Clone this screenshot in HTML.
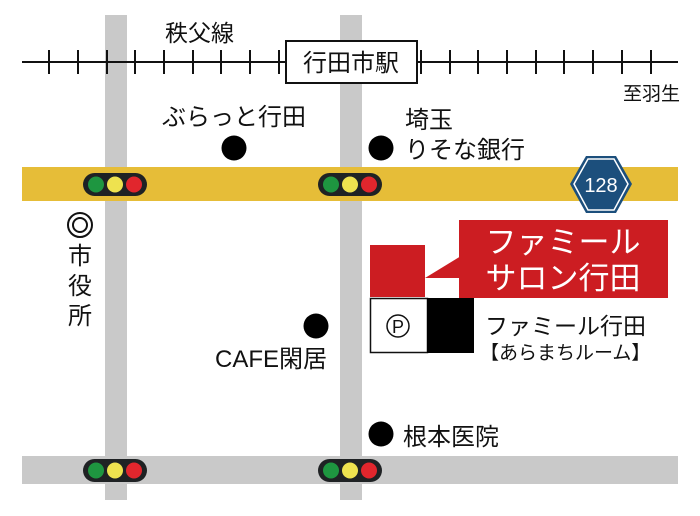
<!DOCTYPE html>
<html><head><meta charset="utf-8"><style>
html,body{margin:0;padding:0;background:#fff;width:700px;height:516px;overflow:hidden}
svg{display:block}
text{font-family:"Liberation Sans","Noto Sans CJK JP",sans-serif;fill:#111}
</style></head><body>
<svg width="700" height="516" viewBox="0 0 700 516" xmlns="http://www.w3.org/2000/svg">
<rect x="105" y="15" width="22" height="485" fill="#c9c9c9"/>
<rect x="340" y="15" width="22" height="485" fill="#c9c9c9"/>
<rect x="22" y="456" width="656" height="28" fill="#c9c9c9"/>
<rect x="22" y="167" width="656" height="34" fill="#e6bd38"/>
<line x1="22" y1="62" x2="678" y2="62" stroke="#111" stroke-width="2"/>
<g stroke="#111" stroke-width="2">
<line x1="49" y1="50" x2="49" y2="74"/><line x1="78" y1="50" x2="78" y2="74"/><line x1="107" y1="50" x2="107" y2="74"/><line x1="135" y1="50" x2="135" y2="74"/><line x1="164" y1="50" x2="164" y2="74"/><line x1="193" y1="50" x2="193" y2="74"/><line x1="221" y1="50" x2="221" y2="74"/><line x1="250" y1="50" x2="250" y2="74"/><line x1="279" y1="50" x2="279" y2="74"/>
<line x1="421" y1="50" x2="421" y2="74"/><line x1="450" y1="50" x2="450" y2="74"/><line x1="478" y1="50" x2="478" y2="74"/><line x1="507" y1="50" x2="507" y2="74"/><line x1="536" y1="50" x2="536" y2="74"/><line x1="564" y1="50" x2="564" y2="74"/><line x1="593" y1="50" x2="593" y2="74"/><line x1="622" y1="50" x2="622" y2="74"/><line x1="651" y1="50" x2="651" y2="74"/>
</g>
<rect x="286" y="41" width="131" height="42" fill="#fff" stroke="#111" stroke-width="2"/>
<text x="351" y="71" font-size="24" text-anchor="middle">行田市駅</text>
<text x="165" y="41" font-size="23">秩父線</text>
<text x="680" y="100" font-size="19" text-anchor="end">至羽生</text>
<text x="162" y="125" font-size="24">ぶらっと行田</text>
<text x="405" y="128" font-size="24">埼玉</text>
<text x="405" y="158" font-size="24">りそな銀行</text>
<circle cx="234" cy="148" r="12.5" fill="#000"/>
<circle cx="381" cy="148" r="12.5" fill="#000"/>
<circle cx="316" cy="326" r="12.5" fill="#000"/>
<circle cx="381" cy="434" r="12.5" fill="#000"/>
<text x="327" y="367" font-size="24" text-anchor="end">CAFE閑居</text>
<text x="403" y="445" font-size="24">根本医院</text>
<circle cx="80" cy="225" r="12" fill="none" stroke="#111" stroke-width="2"/>
<circle cx="80" cy="225" r="7" fill="none" stroke="#111" stroke-width="2"/>
<g font-size="24">
<text x="80" y="264" text-anchor="middle">市</text>
<text x="80" y="294" text-anchor="middle">役</text>
<text x="80" y="324" text-anchor="middle">所</text>
</g>
<g id="tl">
<rect x="83" y="173" width="64" height="23" rx="11.5" fill="#1f2224"/>
<circle cx="96" cy="184.5" r="8" fill="#1e9640"/>
<circle cx="115" cy="184.5" r="8" fill="#eee24f"/>
<circle cx="134" cy="184.5" r="8" fill="#e1262d"/>
</g>
<use href="#tl" x="235" y="0"/>
<use href="#tl" x="0" y="286"/>
<use href="#tl" x="235" y="286"/>
<polygon points="586,156 616,156 632,184 616,213 586,213 570,184" fill="#1c4f7c"/>
<polygon points="588,159 614,159 628,184 614,210 588,210 574,184" fill="none" stroke="#fff" stroke-width="1.5"/>
<text x="601" y="192" font-size="20" text-anchor="middle" style="fill:#fff">128</text>
<rect x="459" y="220" width="209" height="78" fill="#cc1d22"/>
<rect x="370" y="245" width="55" height="52" fill="#cc1d22"/>
<polygon points="461,256 461,278 425,278" fill="#cc1d22"/>
<text x="563" y="253" font-size="31" text-anchor="middle" style="fill:#fff">ファミール</text>
<text x="563" y="289" font-size="31" text-anchor="middle" style="fill:#fff">サロン行田</text>
<rect x="370.5" y="298.5" width="57" height="54" fill="#fff" stroke="#111" stroke-width="1.5"/>
<rect x="427" y="298" width="47" height="55" fill="#000"/>
<circle cx="398" cy="326" r="11" fill="none" stroke="#111" stroke-width="1.5"/>
<text x="398" y="333" font-size="18" text-anchor="middle">P</text>
<text x="485" y="334" font-size="23">ファミール行田</text>
<text x="480" y="359" font-size="19">【あらまちルーム】</text>
</svg>
</body></html>
